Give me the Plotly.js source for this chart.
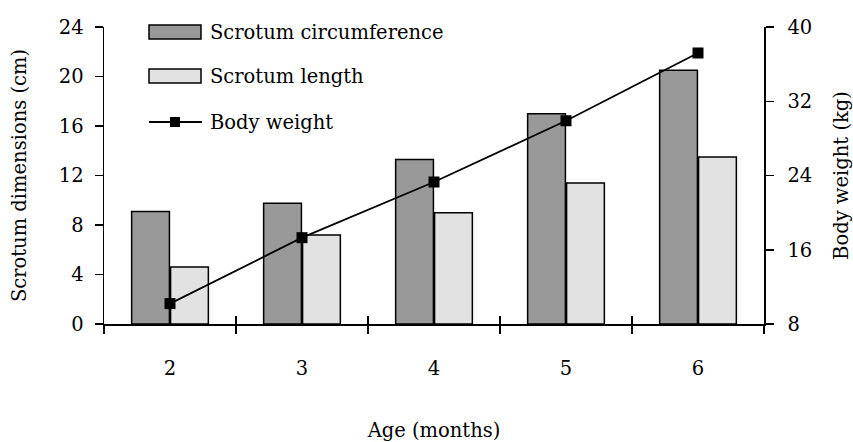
<!DOCTYPE html>
<html>
<head>
<meta charset="utf-8">
<script src="https://cdn.plot.ly/plotly-3.0.1.min.js"></script>
<style>html,body{margin:0;padding:0;background:#fff;}#chart{width:853px;height:442px;}</style>
</head>
<body>
<div id="chart"></div>
<script>
// ---- data ----
const ageMonths = ['2', '3', '4', '5', '6'];
const scrotumCircumference = [9.1, 9.75, 13.3, 17.0, 20.5];
const scrotumLength = [4.6, 7.2, 9.0, 11.4, 13.5];
const bodyWeight = [10.2, 17.3, 23.3, 29.9, 37.2];
const leftTicks = [0, 4, 8, 12, 16, 20, 24];
const rightTicks = [8, 16, 24, 32, 40];
const seriesNames = ['Scrotum circumference', 'Scrotum length', 'Body weight'];

// ---- layout helpers ----
const FONT = 'DejaVu Serif';
const FS = 19.5;
const plotL = 104, plotR = 764, plotT = 27, plotB = 324;
const W = 853, H = 442;
const px = x => (x - plotL) / (plotR - plotL);
const py = y => (plotB - y) / (plotB - plotT);

const darkFill = '#999999';
const lightFill = '#e2e2e2';

const traces = [
  {type: 'bar', name: seriesNames[0], x: ageMonths, y: scrotumCircumference,
   marker: {color: darkFill, line: {color: '#000', width: 1.5}}, showlegend: false, hoverinfo: 'x+y'},
  {type: 'bar', name: seriesNames[1], x: ageMonths, y: scrotumLength,
   marker: {color: lightFill, line: {color: '#000', width: 1.5}}, showlegend: false, hoverinfo: 'x+y'},
  {type: 'scatter', mode: 'lines+markers', name: seriesNames[2], x: ageMonths, y: bodyWeight, yaxis: 'y2',
   line: {color: '#000', width: 1.8}, marker: {symbol: 'square', size: 11, color: '#000'}, showlegend: false}
];

const boundaries = ageMonths.map((_, i) => i - 0.5).concat([ageMonths.length - 0.5]);

// custom legend (wide swatches as in the reference)
const legendItems = [
  {y: 32, kind: 'bar', fill: darkFill},
  {y: 76, kind: 'bar', fill: lightFill},
  {y: 122, kind: 'line'}
];
const shapes = [];
const annotations = [];
legendItems.forEach((it, i) => {
  if (it.kind === 'bar') {
    shapes.push({type: 'rect', xref: 'paper', yref: 'paper',
      x0: px(149), x1: px(201), y0: py(it.y - 7), y1: py(it.y + 7),
      fillcolor: it.fill, line: {color: '#000', width: 1.5}});
  } else {
    shapes.push({type: 'line', xref: 'paper', yref: 'paper',
      x0: px(149), x1: px(202), y0: py(it.y), y1: py(it.y), line: {color: '#000', width: 1.8}});
    shapes.push({type: 'rect', xref: 'paper', yref: 'paper',
      x0: px(170), x1: px(180), y0: py(it.y - 5), y1: py(it.y + 5), fillcolor: '#000', line: {width: 0}});
  }
  annotations.push({xref: 'paper', yref: 'paper', x: px(208), y: py(it.y), xanchor: 'left', yanchor: 'middle',
    text: seriesNames[i], showarrow: false, font: {family: FONT, size: FS, color: '#000'}});
});

const axisCommon = {showgrid: false, zeroline: false, showline: true, linecolor: '#000', linewidth: 1.5,
  tickcolor: '#000', tickwidth: 1.5, tickfont: {family: FONT, size: FS, color: '#000'}};

const layout = {
  width: W, height: H,
  margin: {l: plotL, r: W - plotR, t: plotT, b: H - plotB},
  paper_bgcolor: '#fff', plot_bgcolor: '#fff',
  font: {family: FONT, size: FS, color: '#000'},
  barmode: 'group', bargap: 0.41, bargroupgap: 0.03,
  showlegend: false,
  xaxis: Object.assign({}, axisCommon, {type: 'category', range: [-0.5, ageMonths.length - 0.5],
    tickson: 'boundaries', ticks: 'outside', ticklen: 8, ticklabelstandoff: 26,
    title: {text: 'Age (months)', font: {family: FONT, size: FS}, standoff: 46}}),
  xaxis2: Object.assign({}, axisCommon, {overlaying: 'x', anchor: 'y', side: 'bottom',
    range: [-0.5, ageMonths.length - 0.5], tickmode: 'array', tickvals: boundaries,
    ticks: 'inside', ticklen: 8, showticklabels: false}),
  yaxis: Object.assign({}, axisCommon, {range: [0, 24], tickmode: 'array', tickvals: leftTicks,
    ticks: 'outside', ticklen: 8, ticklabelstandoff: 7,
    title: {text: 'Scrotum dimensions (cm)', font: {family: FONT, size: FS}, standoff: 27}}),
  yaxis2: Object.assign({}, axisCommon, {overlaying: 'y', side: 'right', anchor: 'x', range: [8, 40],
    tickmode: 'array', tickvals: rightTicks, ticks: 'outside', ticklen: 8, ticklabelstandoff: 10,
    title: {text: 'Body weight (kg)', font: {family: FONT, size: FS}, standoff: 25}}),
  shapes: shapes,
  annotations: annotations
};

// invisible helper trace to activate the overlaid boundary-tick axis
traces.push({type: 'scatter', x: [0], y: [0], xaxis: 'x2', yaxis: 'y', mode: 'markers',
  marker: {opacity: 0}, hoverinfo: 'skip', showlegend: false});

Plotly.newPlot('chart', traces, layout, {displayModeBar: false, staticPlot: true});
</script>
</body>
</html>
